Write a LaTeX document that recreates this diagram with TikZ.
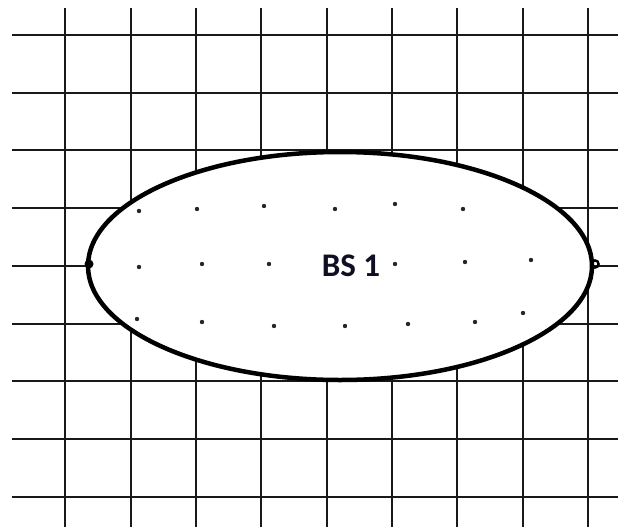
\documentclass[tikz,border=0pt]{standalone}
\usepackage{fontspec}
\newfontfamily\labelfont{Carlito}
\usetikzlibrary{positioning}
\definecolor{bsblue}{RGB}{15,15,35}
\tikzset{
  gridline/.style={line width=2pt,black!90},
  cell/.style={line width=4.5pt,black},
  ue/.style={fill=black!85},
}

\begin{document}
\begin{tikzpicture}[x=1pt,y=-1pt,every node/.style={font=\labelfont\bfseries}]
\useasboundingbox (0,0) rectangle (618,527);
% grid
\foreach \k in {0,...,8} {
  \draw[gridline] (12,35+57.7*\k) -- (618,35+57.7*\k);
  \draw[gridline] (65.4+65.3*\k,8) -- (65.4+65.3*\k,527);
}
% cell of the base station
\fill[white] (340,266) ellipse [x radius=252, y radius=114];
\draw[cell] (340,266) ellipse [x radius=252, y radius=114];
\node[text=bsblue,font=\labelfont\bfseries\fontsize{33}{36}\selectfont] (bs) at (351,266) {BS 1};
% users inside the cell
\foreach \p in {(139,211),(197,209),(264,206),(335,209),(395,204),(463,209),
                (139,267),(202,264),(269,264),(395,264),(465,262),(531,260),
                (137,319),(202,322),(274,326),(345,326),(408,324),(475,322),(523,313)}
  \fill[ue] \p circle (2.2);
\fill (89,264) circle (4.5);
\draw[line width=2.4pt] (595,264) circle (3.6);
\end{tikzpicture}
\end{document}
